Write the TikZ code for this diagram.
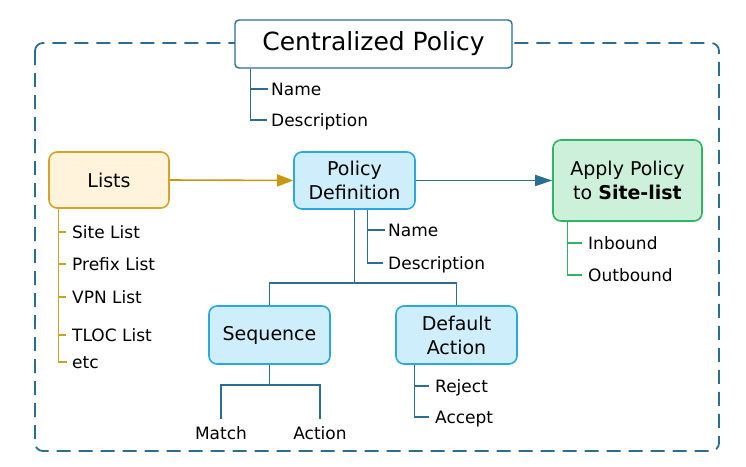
\documentclass[tikz,border=0pt]{standalone}
\usepackage{fontspec}
\setmainfont{DejaVu Sans}
\usetikzlibrary{arrows.meta}
\definecolor{steel}{HTML}{2C6E91}
\definecolor{pdfill}{HTML}{CDEEFA}
\definecolor{pdborder}{HTML}{2BA9DF}
\definecolor{lfill}{HTML}{FFF4DB}
\definecolor{lborder}{HTML}{D4A52A}
\definecolor{goldline}{HTML}{C9A227}
\definecolor{goldarrow}{HTML}{C8980E}
\definecolor{afill}{HTML}{CCF0DA}
\definecolor{aborder}{HTML}{2DB560}
\begin{document}
\begin{tikzpicture}[x=1pt,y=-1pt,
  box/.style={draw, line width=1.6pt, rounded corners=8pt, align=center,
    font=\fontsize{19}{24}\selectfont, inner sep=0},
  bluebox/.style={box, draw=pdborder, fill=pdfill},
  lbl/.style={font=\fontsize{17}{20}\selectfont, inner sep=0, text height=12.4pt,
    text depth=0pt, anchor=west},
  tree/.style={line width=1.4pt, draw=steel},
  gtree/.style={line width=1.4pt, draw=goldline},
  ntree/.style={line width=1.4pt, draw=aborder},
]
\useasboundingbox (0,0) rectangle (746,466);
\fill[white] (0,0) rectangle (746,466);
% outer dashed frame
\draw[steel, line width=1.8pt, dash pattern=on 14pt off 8pt, rounded corners=8pt]
  (35,43) rectangle (719,451);
% title
\node[draw=steel, fill=white, line width=1.4pt, rounded corners=4pt,
  minimum width=277pt, minimum height=48pt, inner sep=0,
  font=\fontsize{25}{30}\selectfont] (title) at (373.5,44) {Centralized Policy};
\node[lbl] (tname) at (271,89) {Name};
\node[lbl] (tdesc) at (271,120) {Description};
\coordinate (tt) at ([xshift=16pt]title.south west);
\draw[tree] (tt) |- ([xshift=-4pt]tdesc.west);
\draw[tree] (tt |- tname.west) -- ([xshift=-3pt]tname.west);

% main boxes
\node[box, draw=lborder, fill=lfill, minimum width=120pt, minimum height=56pt]
  (lists) at (109,180) {Lists};
\node[bluebox, minimum width=121pt, minimum height=57pt]
  (pd) at (354.5,180.5) {Policy\\Definition};
\node[box, draw=aborder, fill=afill, minimum width=149pt, minimum height=81pt]
  (apply) at (627.5,180.5) {Apply Policy\\to \textbf{Site-list}};
\node[bluebox, minimum width=121pt, minimum height=58pt]
  (seq) at (269.5,335) {Sequence};
\node[bluebox, minimum width=121pt, minimum height=58pt]
  (def) at (456.5,335) {Default\\Action};

% arrows
\draw[goldarrow, line width=1.6pt, -{Triangle[length=16pt,width=12pt]}]
  (lists.east) -- (pd.west);
\draw[steel, line width=1.6pt, -{Triangle[length=17pt,width=11pt]}]
  (pd.east) -- (apply.west);

% lists tree
\node[lbl] (site) at (72,232) {Site List};
\node[lbl] (prefix) at (72,264) {Prefix List};
\node[lbl] (vpn) at (72,297) {VPN List};
\node[lbl] (tloc) at (72,335) {TLOC List};
\node[lbl] (etc) at (72,362) {etc};
\coordinate (lt) at ([xshift=10pt]lists.south west);
\draw[gtree] (lt) |- ([xshift=-5pt]etc.west);
\foreach \n in {site,prefix,vpn,tloc}
  \draw[gtree] (lt |- \n.west) -- ([xshift=-6pt]\n.west);

% policy definition tree
\node[lbl] (pname) at (388,230) {Name};
\node[lbl] (pdesc) at (388,263) {Description};
\coordinate (pt) at ([xshift=74pt]pd.south west);
\draw[tree] (pt) |- ([xshift=-5pt]pdesc.west);
\draw[tree] (pt |- pname.west) -- ([xshift=-3pt]pname.west);

% trunk to sequence/default
\coordinate (jy) at (0,283);
\draw[tree] (pd.south) -- (pd.south |- jy);
\draw[tree] (seq.north) -- (seq.north |- jy) -- (def.north |- jy) -- (def.north);

% sequence tree
\node[lbl, anchor=center] (match) at (221,433) {Match};
\node[lbl, anchor=center] (action) at (320,433) {Action};
\coordinate (sy) at (0,385);
\draw[tree] (seq.south) -- (seq.south |- sy);
\draw[tree] ([yshift=8pt]match.north) -- (match.north |- sy) -- (action.north |- sy)
  -- ([yshift=8pt]action.north);

% default action tree
\node[lbl] (reject) at (435,386) {Reject};
\node[lbl] (accept) at (435,417) {Accept};
\coordinate (dt) at ([xshift=19pt]def.south west);
\draw[tree] (dt) |- ([xshift=-6pt]accept.west);
\draw[tree] (dt |- reject.west) -- ([xshift=-6pt]reject.west);

% apply tree
\node[lbl] (inb) at (588,243) {Inbound};
\node[lbl] (outb) at (588,275) {Outbound};
\coordinate (ap) at ([xshift=15pt]apply.south west);
\draw[ntree] (ap) |- ([xshift=-6pt]outb.west);
\draw[ntree] (ap |- inb.west) -- ([xshift=-6pt]inb.west);
\end{tikzpicture}
\end{document}
